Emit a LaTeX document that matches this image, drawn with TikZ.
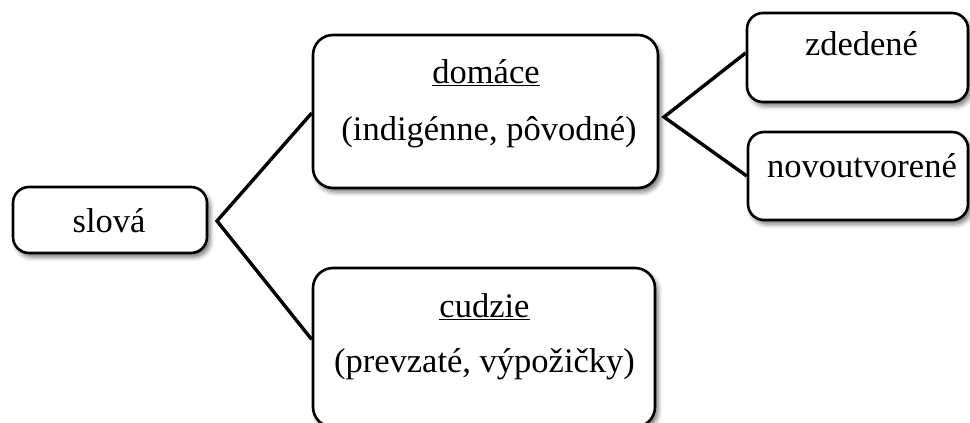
\documentclass[tikz,border=0pt]{standalone}
\usepackage{fontspec}
\setmainfont{Liberation Serif}
\usetikzlibrary{shadows.blur,calc}
\begin{document}
\begin{tikzpicture}[x=1pt,y=-1pt,
  box/.style={draw=black, line width=2.6pt, fill=white, rounded corners=#1,
    blur shadow={shadow xshift=3pt, shadow yshift=-4pt, shadow blur radius=4.5pt, shadow opacity=55},
    inner sep=0pt},
  box/.default=20pt,
  txt/.style={font=\fontsize{34.5}{40}\selectfont, anchor=base, inner sep=0pt},
  conn/.style={line width=3.4pt, line join=miter}]
\useasboundingbox (0,0) rectangle (970,423);
% boxes
\node[box=16pt, minimum width=194pt, minimum height=66pt] (slo) at (110,220) {};
\node[box, minimum width=345pt, minimum height=153pt] (dom) at (485.5,111.5) {};
\node[box, minimum width=342pt, minimum height=159pt] (cud) at (484,347.5) {};
\node[box=16pt, minimum width=221pt, minimum height=89pt] (zde) at (857.5,57.5) {};
\node[box=16pt, minimum width=220pt, minimum height=88pt] (nov) at (858,176) {};
% texts
\node[txt] (tslo) at (109,232) {slová};
\node[txt] (tdom) at (486,83) {\underline{domáce}};
\node[txt] (tdom2) at (489,140) {(indigénne, pôvodné)};
\node[txt] (tcud) at (484.5,317) {\underline{cudzie}};
\node[txt] (tcud2) at (484.5,372) {(prevzaté, výpožičky)};
\node[txt] (tzde) at (861.5,55) {zdedené};
\node[txt] (tnov) at (862,177) {novoutvorené};
% connectors
\coordinate (vL) at (217,221);
\coordinate (vR) at (664,117);
\draw[conn] ($(dom.north west)!0.51!(dom.south west)$) -- (vL) -- ($(cud.north west)!0.45!(cud.south west)$);
\draw[conn] ($(zde.north west)!0.45!(zde.south west)$) -- (vR) -- (nov.west);
\end{tikzpicture}
\end{document}
